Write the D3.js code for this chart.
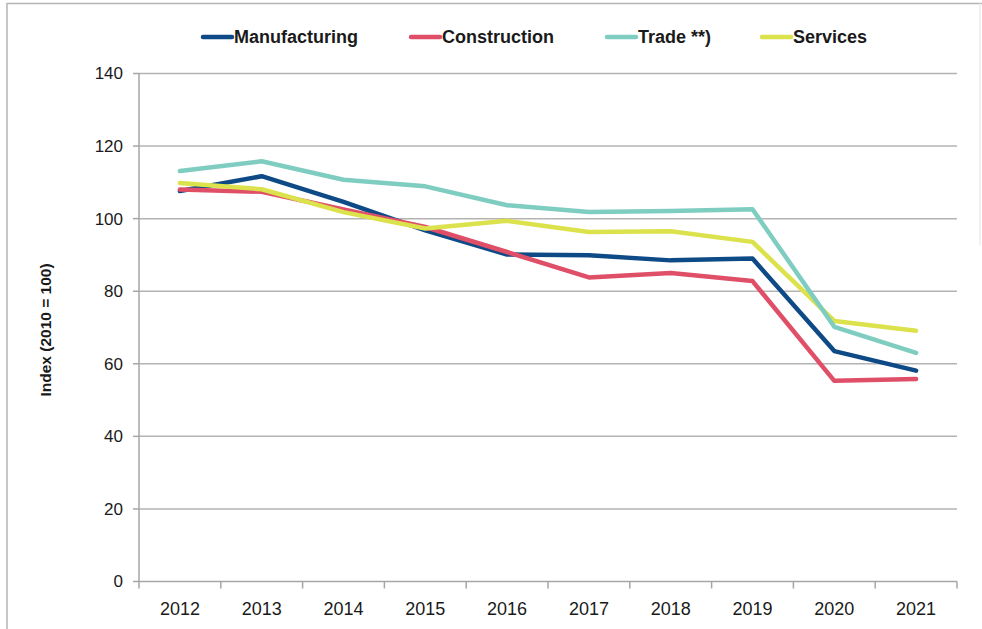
<!DOCTYPE html>
<html>
<head>
<meta charset="utf-8">
<script src="https://cdn.jsdelivr.net/npm/d3@7"></script>
<style>
  body { margin: 0; background: #fff; }
  svg { display: block; font-family: "Liberation Sans", Arial, sans-serif; }
</style>
</head>
<body>
<svg width="982" height="629"></svg>
<script>
// data
const years = ["2012", "2013", "2014", "2015", "2016", "2017", "2018", "2019", "2020", "2021"];
const manufacturing = [107.6, 111.7, 104.6, 96.8, 90.1, 89.9, 88.5, 89.0, 63.5, 58.1];
const construction = [108.0, 107.4, 102.5, 97.7, 90.8, 83.8, 85.0, 82.8, 55.3, 55.8];
const trade = [113.1, 115.8, 110.7, 108.9, 103.7, 101.8, 102.1, 102.6, 70.2, 63.0];
const services = [109.8, 108.1, 101.8, 97.3, 99.4, 96.3, 96.5, 93.6, 71.8, 69.1];
const yTicks = [0, 20, 40, 60, 80, 100, 120, 140];

const seriesNames = ["Manufacturing", "Construction", "Trade **)", "Services"];
const seriesColors = ["#0e4a86", "#e04f68", "#7ecdc0", "#dce24b"];
const seriesValues = [manufacturing, construction, trade, services];

let svg = d3.select("svg");

// rammen
svg.append("path")
  .attr("d", "M7,640 V3.5 H982")
  .attr("fill", "none")
  .attr("stroke", "#b4b4b4")
  .attr("stroke-width", 1.5);
svg.append("line")
  .attr("x1", 980).attr("x2", 980).attr("y1", 3).attr("y2", 245)
  .attr("stroke", "#e4e4e4");

// skalaer
const plotLeft = 139, plotRight = 957, plotTop = 73.5, plotBottom = 581.5;
const x = d3.scaleBand().domain(years).range([plotLeft, plotRight]);
const y = d3.scaleLinear().domain([0, 140]).range([plotBottom, plotTop]);

// gitterlinjer
svg.append("g")
  .selectAll("line")
  .data(yTicks.slice(1))
  .enter()
  .append("line")
  .attr("x1", plotLeft).attr("x2", plotRight)
  .attr("y1", (d) => y(d)).attr("y2", (d) => y(d))
  .attr("stroke", "#b3b3b3")
  .attr("stroke-width", 1.5);

// y-akse
const yAxis = svg.append("g");
yAxis.append("line")
  .attr("x1", plotLeft).attr("x2", plotLeft)
  .attr("y1", plotTop).attr("y2", plotBottom)
  .attr("stroke", "#a6a6a6").attr("stroke-width", 1.5);
yAxis.selectAll(".tick")
  .data(yTicks)
  .enter()
  .append("line")
  .attr("class", "tick")
  .attr("x1", plotLeft - 6).attr("x2", plotLeft)
  .attr("y1", (d) => y(d)).attr("y2", (d) => y(d))
  .attr("stroke", "#a6a6a6").attr("stroke-width", 1.5);
yAxis.selectAll("text")
  .data(yTicks)
  .enter()
  .append("text")
  .attr("x", 123)
  .attr("y", (d) => y(d))
  .attr("dy", "0.35em")
  .attr("text-anchor", "end")
  .style("font-size", "17px")
  .attr("fill", "#1a1a1a")
  .text((d) => d);

// x-akse
const xAxis = svg.append("g");
xAxis.append("line")
  .attr("x1", plotLeft).attr("x2", plotRight)
  .attr("y1", plotBottom).attr("y2", plotBottom)
  .attr("stroke", "#a6a6a6").attr("stroke-width", 1.5);
const edges = years.map((d) => x(d)).concat([x(years[years.length - 1]) + x.bandwidth()]);
xAxis.selectAll(".tick")
  .data(edges)
  .enter()
  .append("line")
  .attr("class", "tick")
  .attr("x1", (d) => d).attr("x2", (d) => d)
  .attr("y1", plotBottom).attr("y2", plotBottom + 7)
  .attr("stroke", "#a6a6a6").attr("stroke-width", 1.5);
xAxis.selectAll("text")
  .data(years)
  .enter()
  .append("text")
  .attr("x", (d) => x(d) + x.bandwidth() / 2)
  .attr("y", 615)
  .attr("text-anchor", "middle")
  .style("font-size", "18px")
  .attr("fill", "#1a1a1a")
  .text((d) => d);

// y-aksetitel
svg.append("text")
  .attr("transform", "translate(51,330) rotate(-90)")
  .attr("text-anchor", "middle")
  .style("font-size", "15.5px")
  .style("font-weight", "bold")
  .attr("fill", "#1a1a1a")
  .text("Index (2010 = 100)");

// linjer
const line = d3.line()
  .x((d, i) => x(years[i]) + x.bandwidth() / 2)
  .y((d) => y(d));

[0, 1, 3, 2].forEach((k) => {
  svg.append("path")
    .datum(seriesValues[k])
    .attr("d", line)
    .attr("fill", "none")
    .attr("stroke", seriesColors[k])
    .attr("stroke-width", 4.5)
    .attr("stroke-linejoin", "round")
    .attr("stroke-linecap", "round");
});

// legend
const legendX = [203, 411, 607, 762];
seriesNames.forEach((name, i) => {
  svg.append("line")
    .attr("x1", legendX[i]).attr("x2", legendX[i] + 29)
    .attr("y1", 37).attr("y2", 37)
    .attr("stroke", seriesColors[i])
    .attr("stroke-width", 4.5)
    .attr("stroke-linecap", "round");
  svg.append("text")
    .attr("x", legendX[i] + 31)
    .attr("y", 43)
    .style("font-size", "18px")
    .style("font-weight", "bold")
    .attr("fill", "#1a1a1a")
    .text(name);
});
</script>
</body>
</html>
